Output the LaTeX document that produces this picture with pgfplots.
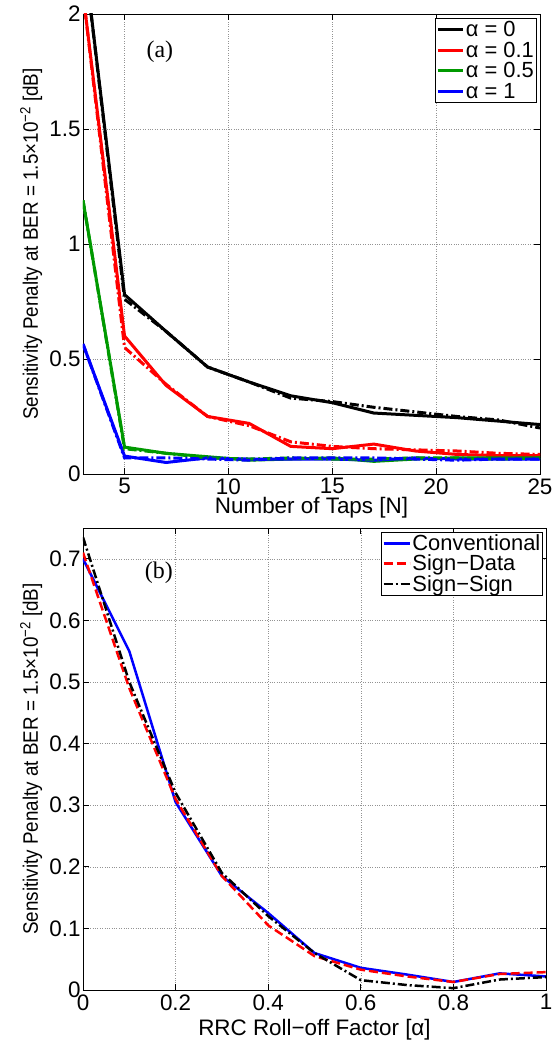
\documentclass[border=0pt]{standalone}
\usepackage{pgfplots}
\pgfplotsset{compat=1.18}
\usepackage{fontspec}
\setmainfont{Liberation Sans}
\newfontfamily\seriffont{Liberation Serif}
\definecolor{mgreen}{rgb}{0,0.6,0}
\newcommand{\ylab}{\scalebox{0.9}[1]{Sensitivity Penalty at BER = 1.5×10\textsuperscript{−2} [dB]}}
\begin{document}
\begin{tikzpicture}
\pgfplotsset{
  every axis/.append style={
    scale only axis,
    font=\fontsize{22.5}{25}\selectfont,
    /pgf/number format/assume math mode=true,
    grid=major,
    major grid style={dotted, gray!85, line width=0.5pt},
    tick align=inside, tick pos=both,
    major tick length=6bp,
    axis line style={line width=0.8pt},
    every tick/.style={black, line width=0.8pt},
    xticklabel style={yshift=-1bp},
    yticklabel style={xshift=1bp},
    legend cell align=left,
    legend style={draw=black, line width=0.8pt, inner sep=1pt, font=\fontsize{22}{24}\selectfont,
      nodes={inner sep=1.5pt}},
  },
  dd/.style={dash pattern=on 9bp off 3bp on 2bp off 3bp},
}
% ---------------- (a) ----------------
\begin{axis}[
  at={(0bp,516bp)}, anchor=south west,
  width=457bp, height=460bp,
  xmin=3, xmax=25, ymin=0, ymax=2,
  xtick={5,10,15,20,25}, ytick={0,0.5,1,1.5,2},
  yticklabels={0,0.5,1,1.5,2},
  xlabel={Number of Taps [N]},
  xlabel style={at={(axis description cs:0.5,0)}, anchor=base, yshift=-40bp},
  ylabel={\ylab},
  ylabel style={at={(axis description cs:-0.0985,0.5)}, anchor=base, font=\fontsize{21}{23}\selectfont},
  legend style={at={(0.993,0.991)}, anchor=north east, row sep=1bp},
  legend image code/.code={\draw[#1] (0bp,0bp) -- (25bp,0bp);},
]
\addplot[black, line width=3bp] coordinates {(3,2.3)(5,0.78)(7,0.62)(9,0.465)(11,0.40)(13,0.34)(15,0.31)(17,0.265)(19,0.255)(21,0.245)(23,0.23)(25,0.215)};
\addlegendentry{α = 0}
\addplot[red, line width=3bp] coordinates {(3,2.09)(5,0.60)(7,0.385)(9,0.25)(11,0.22)(13,0.12)(15,0.11)(17,0.13)(19,0.10)(21,0.085)(23,0.08)(25,0.08)};
\addlegendentry{α = 0.1}
\addplot[mgreen, line width=3bp] coordinates {(3,1.19)(5,0.117)(7,0.09)(9,0.075)(11,0.06)(13,0.065)(15,0.07)(17,0.055)(19,0.065)(21,0.07)(23,0.07)(25,0.07)};
\addlegendentry{α = 0.5}
\addplot[blue, line width=3bp] coordinates {(3,0.565)(5,0.078)(7,0.05)(9,0.07)(11,0.065)(13,0.065)(15,0.065)(17,0.06)(19,0.07)(21,0.065)(23,0.065)(25,0.065)};
\addlegendentry{α = 1}
\addplot[black, line width=3bp, dd, forget plot] coordinates {(3,2.3)(5,0.76)(7,0.62)(9,0.465)(11,0.40)(13,0.33)(15,0.315)(17,0.29)(19,0.27)(21,0.25)(23,0.235)(25,0.20)};
\addplot[red, line width=3bp, dd, forget plot] coordinates {(3,2.09)(5,0.55)(7,0.39)(9,0.25)(11,0.21)(13,0.14)(15,0.12)(17,0.11)(19,0.105)(21,0.10)(23,0.09)(25,0.085)};
\addplot[mgreen, line width=3bp, dd, forget plot] coordinates {(3,1.19)(5,0.11)(7,0.09)(9,0.07)(11,0.065)(13,0.07)(15,0.065)(17,0.065)(19,0.07)(21,0.07)(23,0.065)(25,0.07)};
\addplot[blue, line width=3bp, dd, forget plot] coordinates {(3,0.565)(5,0.07)(7,0.07)(9,0.065)(11,0.06)(13,0.07)(15,0.07)(17,0.07)(19,0.065)(21,0.06)(23,0.065)(25,0.065)};
\node[font=\seriffont\fontsize{24}{26}\selectfont] at (axis cs:6.7,1.835) {(a)};
\end{axis}
% ---------------- (b) ----------------
\begin{axis}[
  at={(0bp,0bp)}, anchor=south west,
  width=463bp, height=462bp,
  xmin=0, xmax=1, ymin=0, ymax=0.75,
  xtick={0,0.2,0.4,0.6,0.8,1}, ytick={0,0.1,0.2,0.3,0.4,0.5,0.6,0.7},
  xticklabels={0,0.2,0.4,0.6,0.8,1},
  yticklabels={0,0.1,0.2,0.3,0.4,0.5,0.6,0.7},
  xlabel={RRC Roll−off Factor [α]},
  xlabel style={at={(axis description cs:0.5,0)}, anchor=base, yshift=-45bp},
  ylabel={\ylab},
  ylabel style={at={(axis description cs:-0.0972,0.5)}, anchor=base, font=\fontsize{21}{23}\selectfont},
  legend style={at={(0.994,0.992)}, anchor=north east, row sep=0bp},
  legend image code/.code={\draw[#1] (0bp,0bp) -- (26bp,0bp);},
]
\addplot[blue, line width=2.5bp] coordinates {(0,0.70)(0.1,0.55)(0.2,0.305)(0.3,0.185)(0.4,0.125)(0.5,0.06)(0.6,0.036)(0.7,0.025)(0.8,0.013)(0.9,0.027)(1.0,0.022)};
\addlegendentry{Conventional}
\addplot[red, line width=2.5bp, dash pattern=on 9bp off 4bp] coordinates {(0,0.71)(0.1,0.49)(0.2,0.31)(0.3,0.185)(0.4,0.105)(0.5,0.055)(0.6,0.033)(0.7,0.022)(0.8,0.013)(0.9,0.026)(1.0,0.029)};
\addlegendentry{Sign−Data}
\addplot[black, line width=2.5bp, dd] coordinates {(0,0.735)(0.1,0.50)(0.2,0.32)(0.3,0.19)(0.4,0.12)(0.5,0.06)(0.6,0.016)(0.7,0.008)(0.8,0.003)(0.9,0.017)(1.0,0.021)};
\addlegendentry{Sign−Sign}
\node[font=\seriffont\fontsize{24}{26}\selectfont] at (axis cs:0.164,0.678) {(b)};
\end{axis}
\pgfresetboundingbox
\path[use as bounding box] (-83bp,-52bp) rectangle (473bp,990bp);
\end{tikzpicture}
\end{document}
